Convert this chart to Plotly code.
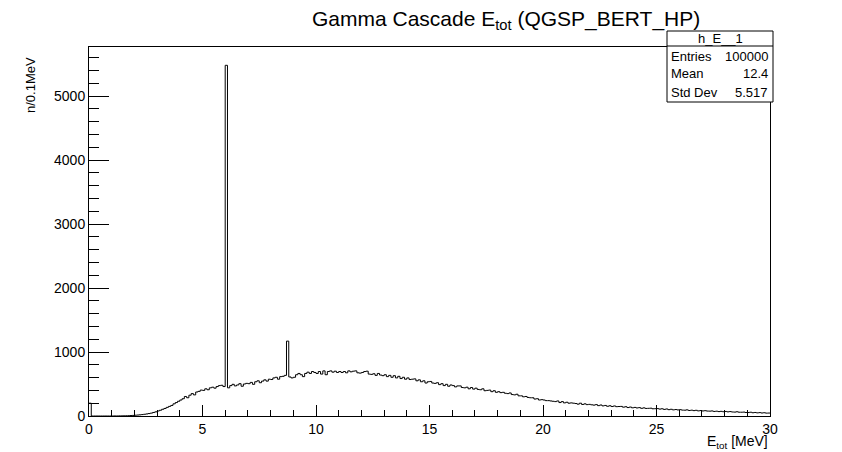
import numpy as np
import plotly.graph_objects as go

# ---------------- data ----------------
x_min, x_max, n_bins = 0.0, 30.0, 300
counts = (
    [200, 0, 0, 0, 0, 0, 0, 0, 0, 0]
    + [0, 1, 1, 2, 2, 3, 4, 5, 7, 9]
    + [12, 15, 18, 22, 27, 32, 38, 45, 55, 65]
    + [78, 90, 105, 118, 135, 150, 165, 190, 210, 230]
    + [250, 270, 305, 285, 325, 350, 330, 375, 385, 405]
    + [400, 425, 410, 440, 450, 435, 460, 475, 480, 460]
    + [5480, 440, 475, 495, 470, 485, 505, 465, 500, 510]
    + [505, 525, 495, 535, 550, 520, 545, 565, 545, 575]
    + [570, 595, 605, 575, 615, 620, 635, 1170, 610, 595]
    + [605, 645, 665, 645, 615, 665, 685, 665, 695, 680]
    + [665, 695, 655, 705, 645, 695, 705, 685, 700, 680]
    + [695, 680, 695, 675, 705, 690, 700, 705, 675, 670]
    + [680, 695, 700, 655, 650, 660, 635, 665, 640, 630]
    + [645, 615, 635, 605, 630, 595, 620, 585, 605, 575]
    + [595, 570, 575, 580, 550, 565, 535, 550, 515, 535]
    + [540, 515, 510, 520, 490, 505, 475, 495, 465, 485]
    + [475, 455, 470, 470, 445, 440, 450, 425, 445, 420]
    + [435, 415, 410, 425, 395, 400, 405, 380, 395, 370]
    + [380, 365, 370, 355, 350, 360, 335, 330, 340, 315]
    + [315, 300, 305, 290, 285, 285, 265, 270, 250, 255]
    + [250, 240, 240, 235, 230, 225, 235, 210, 225, 205]
    + [215, 200, 205, 200, 195, 185, 200, 180, 190, 178]
    + [182, 175, 170, 178, 162, 172, 158, 165, 152, 160]
    + [148, 157, 146, 148, 150, 138, 145, 132, 140, 128]
    + [134, 126, 131, 120, 127, 118, 120, 122, 113, 114]
    + [116, 108, 113, 103, 110, 99, 105, 96, 101, 95]
    + [99, 92, 91, 96, 86, 91, 84, 89, 80, 85]
    + [79, 83, 77, 76, 79, 71, 75, 69, 73, 67]
    + [71, 65, 69, 63, 61, 66, 59, 59, 61, 55]
    + [54, 59, 51, 55, 49, 53, 47, 51, 45, 46]
)
x_ticks = [0, 5, 10, 15, 20, 25, 30]
y_ticks = [0, 1000, 2000, 3000, 4000, 5000]
y_max = 5766

title_text = "Gamma Cascade E<sub>tot</sub> (QGSP_BERT_HP)"
x_title = "E<sub>tot</sub> [MeV]"
y_title = "n/0.1MeV"
stats_name = "h_E__1"
stats_rows = [("Entries", "100000"), ("Mean", "12.4"), ("Std Dev", "5.517")]

# ---------------- figure ----------------
W, H = 842, 452
L, R, T, B = 89, 770, 47, 416
FONT = "Liberation Sans, Arial, Helvetica, sans-serif"

edges = np.linspace(x_min, x_max, n_bins + 1)
ys = counts + [counts[-1]]

fig = go.Figure()
fig.add_trace(go.Scatter(
    x=edges, y=ys, mode="lines", line=dict(shape="hv", color="black", width=1),
    hoverinfo="skip", showlegend=False,
))


def px_x(p):
    return (p - L) / (R - L)


def px_y(p):
    return (B - p) / (B - T)


fig.update_layout(
    width=W, height=H,
    margin=dict(l=L, r=W - R, t=T, b=H - B, pad=0),
    paper_bgcolor="white", plot_bgcolor="white",
    font=dict(family=FONT, color="black", size=14),
    showlegend=False,
)
fig.update_xaxes(
    range=[x_min, x_max], tickvals=x_ticks, ticktext=[str(v) for v in x_ticks],
    ticks="inside", ticklen=11, tickwidth=1, tickcolor="black",
    minor=dict(dtick=1, ticklen=6, tickwidth=1, tickcolor="black", ticks="inside"),
    showline=True, linecolor="black", linewidth=1, mirror=True,
    showgrid=False, zeroline=False, tickfont=dict(size=14, family=FONT),
)
fig.update_yaxes(
    range=[0, y_max], tickvals=y_ticks, ticktext=[str(v) for v in y_ticks],
    ticks="inside", ticklen=20, tickwidth=1, tickcolor="black",
    minor=dict(dtick=200, ticklen=10, tickwidth=1, tickcolor="black", ticks="inside"),
    showline=True, linecolor="black", linewidth=1, mirror=True,
    showgrid=False, zeroline=False, tickfont=dict(size=14, family=FONT),
)

# title
fig.add_annotation(xref="paper", yref="paper", x=px_x(506), y=px_y(20),
                   text=title_text, showarrow=False, xanchor="center", yanchor="middle",
                   font=dict(size=21, family=FONT, color="black"))
# axis titles
fig.add_annotation(xref="paper", yref="paper", x=px_x(R), y=px_y(431),
                   text=x_title, showarrow=False, xanchor="right", yanchor="top",
                   font=dict(size=14, family=FONT, color="black"))
fig.add_annotation(xref="paper", yref="paper", x=px_x(30), y=px_y(55),
                   text=y_title, showarrow=False, textangle=-90,
                   xanchor="center", yanchor="top",
                   font=dict(size=13, family=FONT, color="black"))

# stats box
bx0, bx1, by0, by1, bsep = 667, 773, 31, 102, 46
fig.add_shape(type="rect", xref="paper", yref="paper",
              x0=px_x(bx0), x1=px_x(bx1), y0=px_y(by1), y1=px_y(by0),
              line=dict(color="black", width=1), fillcolor="white", layer="above")
fig.add_shape(type="line", xref="paper", yref="paper",
              x0=px_x(bx0), x1=px_x(bx1), y0=px_y(bsep), y1=px_y(bsep),
              line=dict(color="black", width=1), layer="above")
fig.add_annotation(xref="paper", yref="paper", x=px_x((bx0 + bx1) / 2), y=px_y(38.5),
                   text=stats_name, showarrow=False, xanchor="center", yanchor="middle",
                   font=dict(size=13, family=FONT, color="black"))
row_y = [56, 74, 92]
for (k, v), ry in zip(stats_rows, row_y):
    fig.add_annotation(xref="paper", yref="paper", x=px_x(bx0 + 2), y=px_y(ry),
                       text=k, showarrow=False, xanchor="left", yanchor="middle",
                       font=dict(size=13, family=FONT, color="black"))
    fig.add_annotation(xref="paper", yref="paper", x=px_x(bx1 - 3), y=px_y(ry),
                       text=v, showarrow=False, xanchor="right", yanchor="middle",
                       font=dict(size=13, family=FONT, color="black"))

fig.write_html("out.html")
